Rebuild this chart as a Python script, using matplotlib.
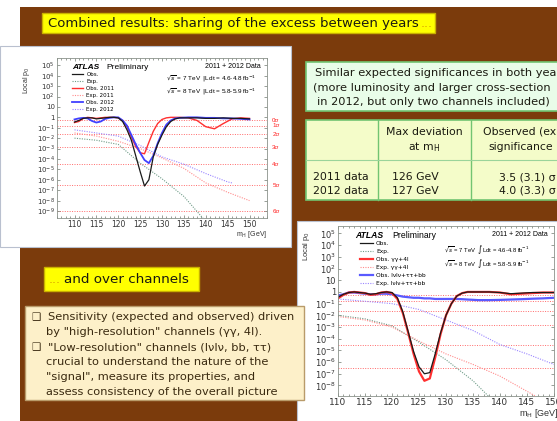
import numpy as np
import matplotlib.pyplot as plt
from matplotlib.patches import Rectangle
from matplotlib.ticker import MultipleLocator

# ---- data (log10 of local p0 read per mass point) ----
mass = [110, 111, 112, 113, 114, 115, 116, 117, 118, 119, 120, 121, 122, 123, 124,
        125, 126, 127, 128, 129, 130, 131, 132, 133, 134, 136, 138, 140, 142, 144,
        146, 148, 150]

# 2011 + 2012 split by year
obs_all = [-0.45, -0.3, -0.1, -0.05, -0.05, -0.15, -0.1, -0.05, 0.0, 0.0, -0.05, -0.4, -1.2,
           -2.2, -3.7, -5.2, -6.6, -6.0, -3.8, -2.6, -1.7, -0.9, -0.4, -0.15, -0.05,
           -0.05, -0.05, -0.1, -0.1, -0.05, -0.1, -0.1, -0.15]
obs_2011 = [-0.5, -0.4, -0.1, 0.0, -0.05, -0.1, -0.05, 0.0, 0.0, 0.0, -0.05, -0.3, -0.9,
            -1.9, -2.8, -3.4, -3.5, -2.4, -1.35, -0.6, -0.2, -0.05, 0.0, 0.0, 0.0,
            -0.05, -0.3, -0.9, -1.1, -0.6, -0.15, -0.05, -0.1]
obs_2012 = [-0.2, -0.1, -0.05, -0.1, -0.35, -0.5, -0.4, -0.15, -0.05, 0.0, 0.0, -0.3, -0.8,
            -1.7, -2.6, -3.4, -4.1, -4.4, -3.7, -2.5, -1.5, -0.7, -0.3, -0.1, -0.05,
            0.0, 0.0, -0.05, -0.05, -0.1, -0.1, -0.15, -0.2]

exp_mass = [110, 115, 120, 125, 130, 135, 140, 145, 150]
exp_all = [-2.0, -2.2, -2.6, -4.4, -5.9, -7.6, -10.0, -11.0, -12.0]
exp_2011 = [-1.5, -1.8, -2.3, -3.0, -3.9, -4.9, -6.3, -7.2, -8.0]
exp_2012_mass = [110, 115, 120, 125, 130, 135, 140, 145, 146]
exp_2012 = [-1.2, -1.5, -1.8, -2.7, -3.8, -4.5, -5.4, -6.2, -6.3]

# 2011 + 2012 split by channel group
obs_comb = [-0.45, -0.2, -0.05, 0.0, -0.05, -0.1, -0.2, -0.15, -0.05, 0.0, -0.05, -0.5, -1.7,
            -3.4, -5.1, -6.4, -7.0, -6.9, -5.3, -3.5, -2.0, -1.0, -0.35, -0.1, 0.0,
            0.0, 0.0, -0.05, -0.15, -0.1, -0.05, -0.05, -0.05]
obs_hr = [-0.55, -0.25, -0.05, 0.0, -0.05, -0.1, -0.25, -0.2, -0.05, 0.0, -0.1, -0.6, -1.8,
          -3.5, -5.3, -6.8, -7.6, -7.4, -5.6, -3.6, -2.0, -1.0, -0.35, -0.1, 0.0,
          0.0, 0.0, -0.05, -0.2, -0.15, -0.1, -0.05, -0.05]
obs_lr = [-0.3, -0.2, -0.05, -0.05, -0.1, -0.15, -0.2, -0.2, -0.15, -0.15, -0.2, -0.3, -0.4,
          -0.45, -0.5, -0.5, -0.55, -0.55, -0.6, -0.6, -0.6, -0.6, -0.6, -0.62, -0.65,
          -0.7, -0.7, -0.68, -0.65, -0.62, -0.58, -0.55, -0.5]
exp_comb = [-2.0, -2.3, -2.9, -4.3, -5.8, -7.6, -9.9, -11.0, -12.0]
exp_hr = [-2.1, -2.4, -3.0, -4.2, -5.3, -6.2, -7.2, -8.5, -9.8]
exp_lr = [-0.6, -0.8, -1.0, -1.5, -2.4, -3.3, -4.5, -5.3, -6.2]

sig_p = [0.5, 0.1587, 0.02275, 1.35e-3, 3.17e-5, 2.87e-7, 9.87e-10]
sig_lbl = ['0σ', '1σ', '2σ', '3σ', '4σ', '5σ', '6σ']

W, H = 557, 421
BROWN = '#7b3b0c'
fig = plt.figure(figsize=(W / 100, H / 100), dpi=100)
fig.patch.set_facecolor('white')

# slide background, drawn in pixel coordinates
bg = fig.add_axes([0, 0, 1, 1])
bg.set_xlim(0, W)
bg.set_ylim(H, 0)
bg.axis('off')


def box(x0, y0, x1, y1, fc, ec=None, lw=1.0):
    bg.add_patch(Rectangle((x0, y0), x1 - x0, y1 - y0, facecolor=fc,
                           edgecolor=ec or fc, linewidth=lw))


def txt(x, y, s, size=7.5, **kw):
    kw.setdefault('va', 'center')
    kw.setdefault('color', '#1a1a10')
    bg.text(x, y, s, fontsize=size, family='DejaVu Sans', **kw)


box(20, 7, W + 5, H + 5, BROWN, lw=0)
box(42, 13, 435, 33, '#ffff00', '#c9b000')
txt(48, 23.5, 'Combined results: sharing of the excess between years', size=9.5)
txt(421, 23.5, '...', size=9.0, color='#d8a000')

# white panels behind the two plots
box(0, 46, 291, 247, 'white', '#b9c0cf', 0.8)
box(297, 221, W + 5, H + 5, 'white', '#b9c0cf', 0.8)

# note box
box(306, 62, W + 5, 111, '#e9fde9', '#72c472', 1.2)
txt(315, 73, 'Similar expected significances in both years', size=8.2)
txt(313, 88, '(more luminosity and larger cross-section', size=8.2)
txt(317, 102, 'in 2012, but only two channels included)', size=8.2)

# summary table
box(306, 120, W + 5, 200, '#f4fcc9', '#72c472', 1.2)
bg.plot([378, 378], [120, 200], color='#72c472', lw=1.0)
bg.plot([471, 471], [120, 200], color='#72c472', lw=1.0)
bg.plot([306, W + 5], [160, 160], color='#9ad49a', lw=0.8)
txt(424, 132, 'Max deviation', size=7.8, ha='center')
txt(424, 147, 'at m$_{\\mathrm{H}}$', size=7.8, ha='center')
txt(483, 132, 'Observed (expected)', size=7.8)
txt(488, 147, 'significance', size=7.8)
rows = [('2011 data', '126 GeV', '3.5 (3.1) σ'), ('2012 data', '127 GeV', '4.0 (3.3) σ')]
for i, (a, b, c) in enumerate(rows):
    y = 177 + 13.5 * i
    txt(313, y, a, size=7.8)
    txt(415, y, b, size=7.8, ha='center')
    txt(556, y, c, size=7.8, ha='right')

# second heading
box(44, 267, 199, 291, '#ffff00', '#c9b000')
txt(49, 279.5, '...', size=9.0, color='#d8a000')
txt(64, 279.5, 'and over channels', size=9.7)

# bullet box
box(25, 306, 304, 400, '#fdf0c9', '#b99b6a', 1.0)
lines = [(True, 'Sensitivity (expected and observed) driven'),
         (False, 'by "high-resolution" channels (γγ, 4l).'),
         (True, '"Low-resolution" channels (lνlν, bb, ττ)'),
         (False, 'crucial to understand the nature of the'),
         (False, '"signal", measure its properties, and'),
         (False, 'assess consistency of the overall picture')]
for i, (bullet, s) in enumerate(lines):
    y = 317 + 15 * i
    if bullet:
        txt(31, y, '\u2751', size=7.5, color='#3a2a10')
    txt(48 if bullet else 46, y, s, size=8.2, color='#3a2a10')


def atlas_axes(px, xlim, ylim, ylab_range, xfs, yfs):
    x0, y0, x1, y1 = px
    ax = fig.add_axes([x0 / W, 1 - y1 / H, (x1 - x0) / W, (y1 - y0) / H])
    ax.set_yscale('log')
    ax.set_xlim(*xlim)
    ax.set_ylim(*ylim)
    ax.set_xticks(range(110, 151, 5))
    ax.xaxis.set_minor_locator(MultipleLocator(1))
    dec = list(range(ylab_range[0], ylab_range[1] + 1))
    ax.set_yticks([10.0 ** d for d in dec])
    ax.set_yticklabels(['1' if d == 0 else '10' if d == 1 else '$10^{%d}$' % d for d in dec])
    ax.tick_params(which='both', direction='in', top=True, right=True,
                   color='#6f786f', width=0.5, labelcolor='#333333')
    ax.tick_params(which='major', length=2.5, pad=1.5)
    ax.tick_params(which='minor', length=1.3)
    ax.tick_params(axis='x', labelsize=xfs)
    ax.tick_params(axis='y', labelsize=yfs)
    for s in ax.spines.values():
        s.set_color('#8a928a')
        s.set_linewidth(0.6)
    for p in sig_p:
        ax.axhline(p, color='#ff6a6a', lw=0.7, ls=(0, (1, 1.5)), zorder=1)
    return ax


def p0(vals):
    return 10.0 ** np.array(vals)


# ---- plot 1: sharing between years ----
ax1 = atlas_axes((57, 58, 267, 218), (106, 154), (10 ** -9.67, 10 ** 5.7), (-9, 5), 5.5, 5)
h_ea, = ax1.plot(exp_mass, p0(exp_all), color='#6f9c88', lw=0.8, ls=(0, (1, 1.2)), label='Exp.')
h_e11, = ax1.plot(exp_mass, p0(exp_2011), color='#ff8c8c', lw=0.8, ls=(0, (1, 1.2)), label='Exp. 2011')
h_e12, = ax1.plot(exp_2012_mass, p0(exp_2012), color='#9b86ff', lw=0.8, ls=(0, (1, 1.2)), label='Exp. 2012')
h_o11, = ax1.plot(mass, p0(obs_2011), color='#ff3030', lw=1.0, label='Obs. 2011')
h_o12, = ax1.plot(mass, p0(obs_2012), color='#4040ff', lw=1.3, label='Obs. 2012')
h_oa, = ax1.plot(mass, p0(obs_all), color='#1a1a1a', lw=0.9, label='Obs.')
ax1.legend(handles=[h_oa, h_ea, h_o11, h_e11, h_o12, h_e12], loc='upper left',
           bbox_to_anchor=(0.06, 0.93), fontsize=4, frameon=False, handlelength=2.0,
           handletextpad=0.5, labelspacing=0.35, borderpad=0)
ax1.text(0.07, 0.94, 'ATLAS', transform=ax1.transAxes, fontsize=6, fontweight='bold',
         style='italic', family='Liberation Sans', va='center')
ax1.text(0.235, 0.94, 'Preliminary', transform=ax1.transAxes, fontsize=6,
         family='Liberation Sans', va='center')
ax1.text(0.97, 0.95, '2011 + 2012 Data', transform=ax1.transAxes, fontsize=5,
         family='Liberation Sans', ha='right', va='center')
ax1.text(0.52, 0.87, r'$\sqrt{s}$ = 7 TeV  $|$Ldt = 4.6-4.8 fb$^{-1}$', transform=ax1.transAxes,
         fontsize=4.6, family='Liberation Sans', va='center')
ax1.text(0.52, 0.79, r'$\sqrt{s}$ = 8 TeV  $|$Ldt = 5.8-5.9 fb$^{-1}$', transform=ax1.transAxes,
         fontsize=4.6, family='Liberation Sans', va='center')
for p, s in zip(sig_p, sig_lbl):
    ax1.text(1.025, p, s, transform=ax1.get_yaxis_transform(), color='#ff2020',
             fontsize=4.5, va='center', family='Liberation Sans')
ax1.text(-0.145, 0.86, 'Local p$_0$', transform=ax1.transAxes, rotation=90, fontsize=5,
         ha='center', va='center', color='#333333', family='Liberation Sans')
ax1.text(1.0, -0.105, 'm$_\\mathrm{H}$ [GeV]', transform=ax1.transAxes, fontsize=5,
         ha='right', va='center', color='#333333', family='Liberation Sans')

# ---- plot 2: sharing between channels ----
ax2 = atlas_axes((338, 226, 554, 396), (110, 150), (10 ** -8.9, 10 ** 5.64), (-8, 5), 6.5, 6)
g_ec, = ax2.plot(exp_mass, p0(exp_comb), color='#6f9c88', lw=0.8, ls=(0, (1, 1.2)), label='Exp.')
g_eh, = ax2.plot(exp_mass, p0(exp_hr), color='#ff8c8c', lw=0.8, ls=(0, (1, 1.2)),
                 label='Exp. γγ+4l')
g_el, = ax2.plot(exp_mass, p0(exp_lr), color='#9b86ff', lw=0.8, ls=(0, (1, 1.2)),
                 label='Exp. lνlν+ττ+bb')
g_ol, = ax2.plot(mass, p0(obs_lr), color='#5a5aff', lw=1.6, label='Obs. lνlν+ττ+bb')
g_oh, = ax2.plot(mass, p0(obs_hr), color='#ff3030', lw=1.6, label='Obs. γγ+4l')
g_oc, = ax2.plot(mass, p0(obs_comb), color='#1a1a1a', lw=0.9, label='Obs.')
ax2.legend(handles=[g_oc, g_ec, g_oh, g_eh, g_ol, g_el], loc='upper left',
           bbox_to_anchor=(0.09, 0.93), fontsize=4.2, frameon=False, handlelength=2.2,
           handletextpad=0.5, labelspacing=0.5, borderpad=0)
ax2.text(0.08, 0.945, 'ATLAS', transform=ax2.transAxes, fontsize=6.2, fontweight='bold',
         style='italic', family='Liberation Sans', va='center')
ax2.text(0.25, 0.945, 'Preliminary', transform=ax2.transAxes, fontsize=6.2,
         family='Liberation Sans', va='center')
ax2.text(0.97, 0.95, '2011 + 2012 Data', transform=ax2.transAxes, fontsize=5,
         family='Liberation Sans', ha='right', va='center')
ax2.text(0.49, 0.86, r'$\sqrt{s}$ = 7 TeV  $\int$Ldt = 4.6-4.8 fb$^{-1}$', transform=ax2.transAxes,
         fontsize=4.2, family='Liberation Sans', va='center')
ax2.text(0.49, 0.78, r'$\sqrt{s}$ = 8 TeV  $\int$Ldt = 5.8-5.9 fb$^{-1}$', transform=ax2.transAxes,
         fontsize=4.2, family='Liberation Sans', va='center')
ax2.text(-0.148, 0.88, 'Local p$_0$', transform=ax2.transAxes, rotation=90, fontsize=5.5,
         ha='center', va='center', color='#333333', family='Liberation Sans')
ax2.text(0.84, -0.1, 'm$_\\mathrm{H}$ [GeV]', transform=ax2.transAxes, fontsize=6.5,
         ha='left', va='center', color='#333333', family='Liberation Sans')

fig.savefig('out.png', dpi=100)
